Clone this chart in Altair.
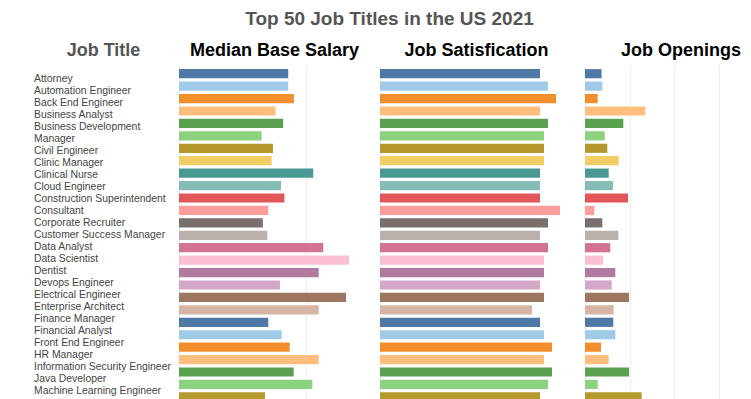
import altair as alt
import pandas as pd

titles = ["Attorney", "Automation Engineer", "Back End Engineer", "Business Analyst",
          "Business Development", "Manager", "Civil Engineer", "Clinic Manager",
          "Clinical Nurse", "Cloud Engineer", "Construction Superintendent", "Consultant",
          "Corporate Recruiter", "Customer Success Manager", "Data Analyst", "Data Scientist",
          "Dentist", "Devops Engineer", "Electrical Engineer", "Enterprise Architect",
          "Finance Manager", "Financial Analyst", "Front End Engineer", "HR Manager",
          "Information Security Engineer", "Java Developer", "Machine Learning Engineer"]

salary = [86000, 86000, 90500, 76000, 82000, 65000, 74000, 73000, 105700, 80300, 83000,
          70300, 66000, 69500, 113600, 133900, 110000, 79500, 131500, 110000, 70300,
          80900, 87200, 110000, 90300, 105000, 67700]

satisfaction = [4.0, 4.2, 4.4, 4.0, 4.2, 4.1, 4.1, 4.1, 4.0, 4.0, 4.0, 4.5, 4.2, 4.0,
                4.2, 4.1, 4.1, 4.0, 4.1, 3.8, 4.0, 4.1, 4.3, 4.1, 4.3, 4.2, 4.0]

openings = [3700, 3870, 2840, 13490, 8570, 4410, 4990, 7540, 5300, 6260, 9620, 2080,
            3870, 7450, 5660, 4030, 6780, 5970, 9840, 6420, 6330, 6780, 3580, 5300,
            9840, 2840, 12680]

palette = ["#4E79A7", "#A0CBE8", "#F28E2B", "#FFBE7D", "#59A14F", "#8CD17D", "#B6992D",
           "#F1CE63", "#499894", "#86BCB6", "#E15759", "#FF9D9A", "#79706E", "#BAB0AC",
           "#D37295", "#FABFD2", "#B07AA1", "#D4A6C8", "#9D7660", "#D7B5A6"]

df = pd.DataFrame({"title": titles, "row": list(range(len(titles))),
                   "salary": salary, "satisfaction": satisfaction, "openings": openings})

FONT = "Liberation Sans"
P_TOP = 64.0      # page y of plot top
H = 337           # plot height
BAR_STEP, BAR_C0 = 12.43, 72.7
LAB_STEP, LAB_C0 = 12.0, 78.3
d0 = (P_TOP - BAR_C0) / BAR_STEP
d1 = d0 + H / BAR_STEP
e0 = (P_TOP - LAB_C0) / LAB_STEP
e1 = e0 + H / LAB_STEP


def head(text, dx, color="#000000"):
    return alt.TitleParams(text=text, fontSize=18, fontWeight="bold", font=FONT,
                           color=color, dx=dx, offset=5, anchor="middle")


def bar_panel(field, header, width, xmax, grid_vals, dx):
    return alt.Chart(df).transform_calculate(
        y0="datum.row - 0.37", y1="datum.row + 0.37", zero="0"
    ).mark_rect(clip=True).encode(
        x=alt.X(f"{field}:Q", scale=alt.Scale(domain=[0, xmax], nice=False, zero=True),
                axis=alt.Axis(values=grid_vals, labels=False, ticks=False, domain=False,
                              title=None, grid=True, gridColor="#ededed")),
        x2="zero:Q",
        y=alt.Y("y0:Q", scale=alt.Scale(domain=[d0, d1], reverse=True, nice=False, zero=False),
                axis=None),
        y2="y1:Q",
        color=alt.Color("title:N", scale=alt.Scale(domain=titles, range=palette), legend=None),
    ).properties(width=width, height=H, title=head(header, dx))


labels = alt.Chart(df).mark_text(align="left", baseline="middle", fontSize=10.4, font=FONT,
                                 color="#444444", clip=True).encode(
    x=alt.value(26),
    y=alt.Y("row:Q", scale=alt.Scale(domain=[e0, e1], reverse=True, nice=False, zero=False),
            axis=None),
    text="title:N",
).properties(width=171, height=H, title=head("Job Title", 10, "#555555"))

sal = bar_panel("salary", "Median Base Salary", 201, 201 / 127 * 100000, [0, 100000], -5)
sat = bar_panel("satisfaction", "Job Satisfication", 205, 205 / 40, [0], -6)
opn = bar_panel("openings", "Job Openings", 158, 158 / 44.7 * 10000, [0, 10000, 20000, 30000], 17)

chart = alt.hconcat(labels, sal, sat, opn, spacing=0).properties(
    title=alt.TitleParams(text="Top 50 Job Titles in the US 2021", fontSize=19, fontWeight="bold",
                          font=FONT, color="#555555", anchor="middle", dx=14, offset=13),
    padding={"left": 0, "top": 2, "right": 0, "bottom": 0},
).configure_view(stroke=None).configure_concat(spacing=0)

chart.save("out.html", embed_options={"renderer": "svg", "actions": False})
